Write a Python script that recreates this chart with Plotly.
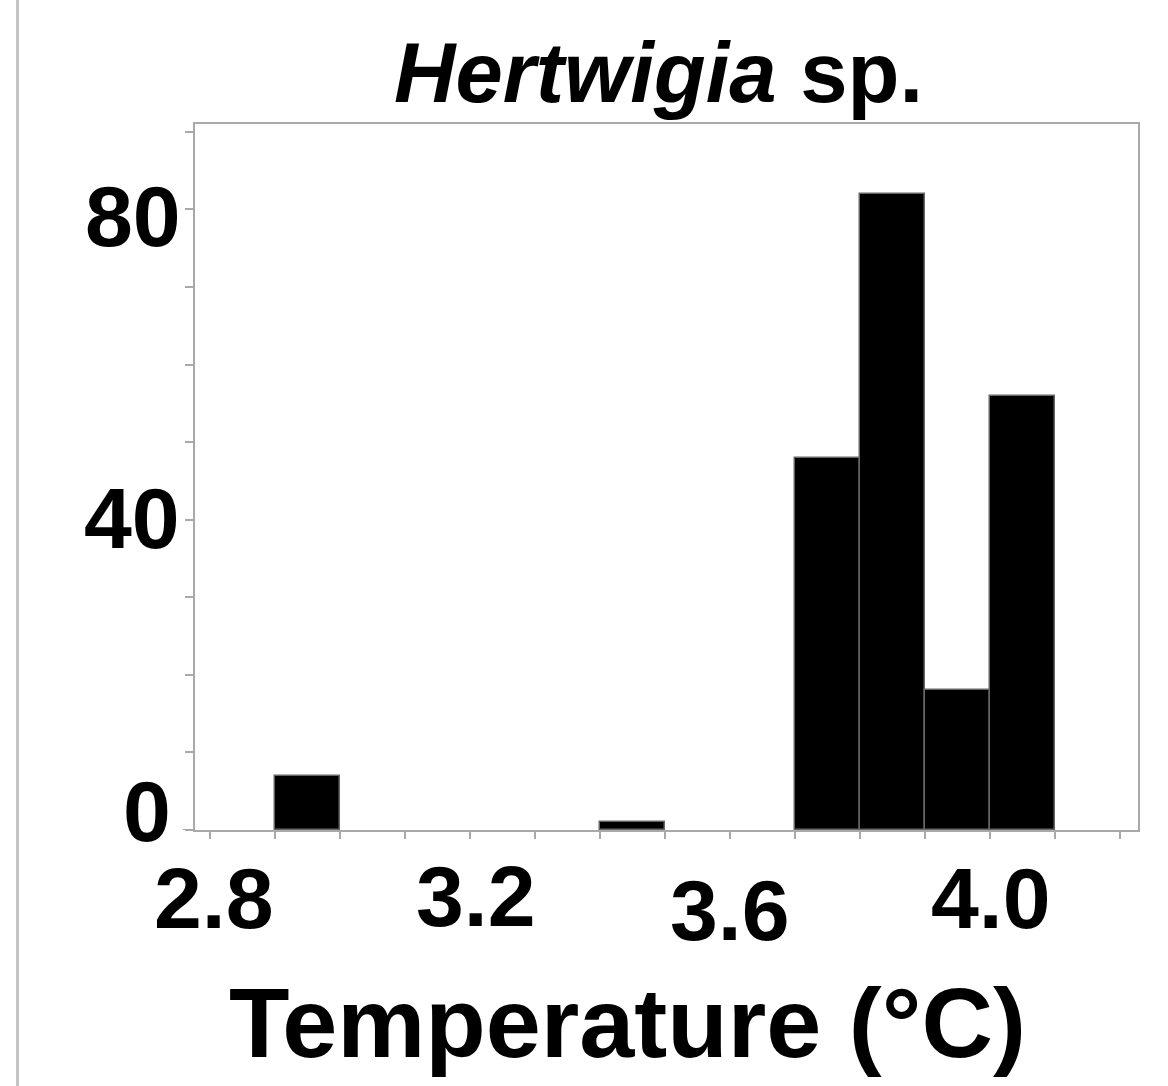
import plotly.graph_objects as go

# Histogram of temperature occurrences (bin width 0.1 °C)
bin_left = [2.9, 3.4, 3.7, 3.8, 3.9, 4.0]
counts = [7, 1, 48, 82, 18, 56]
bin_width = 0.1

# Axis ticks and their labels
x_minor_ticks = [2.8, 2.9, 3.0, 3.1, 3.2, 3.3, 3.4, 3.5, 3.6, 3.7, 3.8, 3.9, 4.0, 4.1, 4.2]
x_labels = ["2.8", "3.2", "3.6", "4.0"]
x_label_vals = [2.8, 3.2, 3.6, 4.0]
x_label_drop = [0, -2, 12, 0]         # vertical offsets of the labels (px)
x_label_nudge = [4, 6, 0, 1]          # horizontal offsets of the labels (px)
y_minor_ticks = [0, 10, 20, 30, 40, 50, 60, 70, 80, 90]
y_labels = ["0", "40", "80"]
y_label_vals = [0, 40, 80]
y_label_lift = [23, 6, -3]            # vertical offsets of the labels (px)
y_label_gap = [22, 13, 12]            # distance from the axis (px)

FONT = "Liberation Sans, Arial, sans-serif"
AXIS_GREY = "#a9a9a9"

fig = go.Figure()
fig.add_trace(go.Bar(
    x=[b + bin_width / 2 for b in bin_left],
    y=counts,
    width=bin_width,
    marker=dict(color="black", line=dict(color="#666666", width=1.5)),
    showlegend=False,
))

fig.update_layout(
    width=1168, height=1086,
    margin=dict(l=195, r=30, t=124, b=256),
    paper_bgcolor="white", plot_bgcolor="white",
    font=dict(family=FONT, color="black"),
    bargap=0,
    xaxis=dict(
        range=[2.7769, 4.2277], tickmode="array", tickvals=x_minor_ticks,
        showticklabels=False, ticks="outside", ticklen=7, tickwidth=2,
        tickcolor=AXIS_GREY, showline=True, linecolor=AXIS_GREY, linewidth=2,
        mirror=True, showgrid=False, zeroline=False,
    ),
    yaxis=dict(
        range=[0, 91], tickmode="array", tickvals=y_minor_ticks,
        showticklabels=False, ticks="outside", ticklen=8, tickwidth=2,
        tickcolor=AXIS_GREY, showline=True, linecolor=AXIS_GREY, linewidth=2,
        mirror=True, showgrid=False, zeroline=False,
    ),
)

annotations = []
for val, txt, drop, nudge in zip(x_label_vals, x_labels, x_label_drop, x_label_nudge):
    annotations.append(dict(
        x=val, xref="x", y=0, yref="paper", text=txt, showarrow=False,
        xanchor="center", yanchor="middle", yshift=-68 - drop, xshift=nudge,
        font=dict(family=FONT, size=86, color="black", weight="bold"),
    ))
for val, txt, lift, gap in zip(y_label_vals, y_labels, y_label_lift, y_label_gap):
    annotations.append(dict(
        x=0, xref="paper", y=val, yref="y", text=txt, showarrow=False,
        xanchor="right", yanchor="middle", xshift=-gap, yshift=lift - 4,
        font=dict(family=FONT, size=86, color="black", weight="bold"),
    ))

# Title and axis title
annotations.append(dict(
    x=0.491, xref="paper", y=1, yref="paper", yshift=52,
    text="<i>Hertwigia</i> sp.", showarrow=False,
    xanchor="center", yanchor="middle",
    font=dict(family=FONT, size=85, color="black", weight="bold"),
))
annotations.append(dict(
    x=0.459, xref="paper", y=0, yref="paper", yshift=-192,
    text="Temperature (°C)", showarrow=False,
    xanchor="center", yanchor="middle",
    font=dict(family=FONT, size=99, color="black", weight="bold"),
))
fig.update_layout(annotations=annotations)

# Thin vertical rule along the left edge of the panel
fig.add_shape(type="line", xref="paper", yref="paper",
              x0=-0.1882, x1=-0.1882, y0=-0.37, y1=1.18,
              line=dict(color="#c4c4c4", width=3))

# Short extension of the baseline to the left of the frame
fig.add_shape(type="line", xref="paper", yref="y",
              x0=-0.0127, x1=0, y0=0, y1=0,
              line=dict(color=AXIS_GREY, width=2))

fig.write_html("out.html")
